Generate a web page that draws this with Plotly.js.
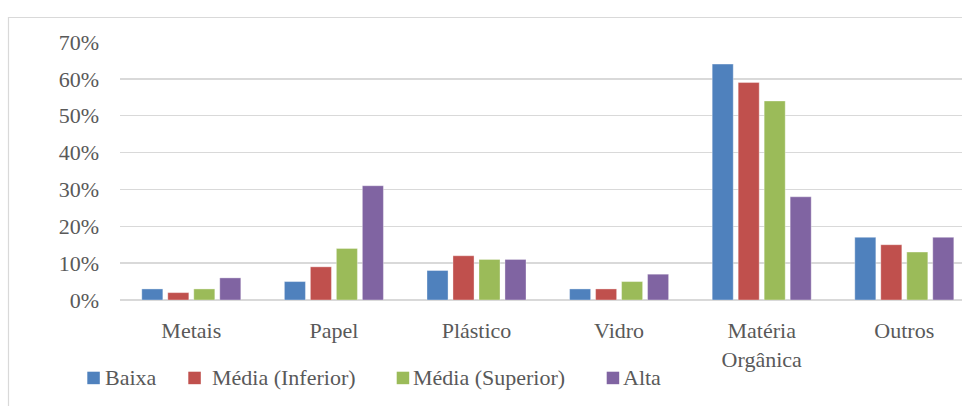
<!DOCTYPE html>
<html>
<head>
<meta charset="utf-8">
<script src="https://cdn.plot.ly/plotly-3.0.1.min.js"></script>
<style>
  html, body { margin: 0; padding: 0; background: #ffffff; overflow: hidden; }
  #warm { position: absolute; left: 0; top: 0; font-family: 'Liberation Serif'; font-size: 22px; color: #ffffff; }
  #chart { position: absolute; left: 0; top: 0; width: 962px; height: 406px; }
</style>
</head>
<body>
<div id="warm">Baixa Média (Inferior) Média (Superior) Alta Metais Papel Plástico Vidro Matéria Orgânica Outros 0% 70%</div>
<div id="chart"></div>
<script>
// Composição dos resíduos por classe de rendimento (%)
const categories = ['Metais', 'Papel', 'Plástico', 'Vidro', 'Matéria Orgânica', 'Outros'];
const tickLabels = ['Metais', 'Papel', 'Plástico', 'Vidro', 'Matéria<br>Orgânica', 'Outros'];
const seriesNames = ['Baixa', 'Média (Inferior)', 'Média (Superior)', 'Alta'];

const baixa         = [3, 5, 8, 3, 64, 17];
const mediaInferior = [2, 9, 12, 3, 59, 15];
const mediaSuperior = [3, 14, 11, 5, 54, 13];
const alta          = [6, 31, 11, 7, 28, 17];

const yTickValues = [0, 10, 20, 30, 40, 50, 60, 70];
const yTickLabels = ['0%', '10%', '20%', '30%', '40%', '50%', '60%', '70%'];

const seriesValues = [baixa, mediaInferior, mediaSuperior, alta];
const seriesColors = ['#4f81bd', '#c0504d', '#9bbb59', '#8064a2'];

const FONT = 'Liberation Serif';
const FS = 22;
const TEXT = '#595959';
const GRID = '#d9d9d9';

const W = 962, H = 406;
const M = { l: 120, r: 0, t: 42, b: 106 };
const PW = W - M.l - M.r, PH = H - M.t - M.b;
const CAT_W = 142.6;                     // pixel width of one category slot
const px = x => (x - M.l) / PW;          // page pixel -> paper x
const py = y => (H - M.b - y) / PH;      // page pixel -> paper y

const traces = seriesNames.map((name, i) => ({
  type: 'bar',
  name: name,
  x: categories,
  y: seriesValues[i],
  marker: { color: seriesColors[i], line: { color: 'rgba(255,255,255,0.35)', width: 1 } },
  showlegend: false,
  hovertemplate: '%{x}: %{y}%<extra>' + name + '</extra>'
}));

// Legend row drawn as swatches + labels under the axis
const legendSwatchX = [87.3, 188.3, 396.7, 606.7];
const legendTextX = [105, 211.7, 413.3, 623.3];
const SW = 12.5, SW_TOP = 371.7, LEG_MID = 377.5;

const shapes = [
  // outer chart frame (left and top edges visible)
  { type: 'rect', xref: 'paper', yref: 'paper',
    x0: px(8.5), x1: px(W + 20), y0: py(H + 20), y1: py(17.5),
    line: { color: GRID, width: 1.2 }, fillcolor: 'rgba(0,0,0,0)', layer: 'below' }
];
const annotations = [];
seriesNames.forEach((name, i) => {
  shapes.push({ type: 'rect', xref: 'paper', yref: 'paper',
    x0: px(legendSwatchX[i]), x1: px(legendSwatchX[i] + SW),
    y0: py(SW_TOP + SW), y1: py(SW_TOP),
    line: { width: 0 }, fillcolor: seriesColors[i] });
  annotations.push({ xref: 'paper', yref: 'paper',
    x: px(legendTextX[i]), y: py(LEG_MID), xanchor: 'left', yanchor: 'middle',
    text: name, showarrow: false, borderpad: 0, borderwidth: 0,
    font: { family: FONT, size: FS, color: TEXT } });
});

const layout = {
  width: W, height: H,
  margin: M,
  paper_bgcolor: '#ffffff',
  plot_bgcolor: '#ffffff',
  barmode: 'group',
  bargap: 0.271,
  bargroupgap: 0.19,
  showlegend: false,
  xaxis: {
    type: 'category',
    range: [-0.5, -0.5 + PW / CAT_W],
    tickvals: categories,
    ticktext: tickLabels,
    showgrid: false, showline: false, zeroline: false,
    ticks: '',
    ticklabelstandoff: 15,
    tickfont: { family: FONT, size: FS, color: TEXT },
    fixedrange: true
  },
  yaxis: {
    range: [0, 70],
    tickvals: yTickValues,
    ticktext: yTickLabels,
    showgrid: true, gridcolor: GRID, gridwidth: 1.3,
    zeroline: true, zerolinecolor: GRID, zerolinewidth: 1.3,
    showline: false, ticks: '',
    ticklabelstandoff: 20,
    tickfont: { family: FONT, size: FS, color: TEXT },
    fixedrange: true
  },
  shapes: shapes,
  annotations: annotations
};

Plotly.newPlot('chart', traces, layout, { displayModeBar: false, staticPlot: true });
</script>
</body>
</html>
